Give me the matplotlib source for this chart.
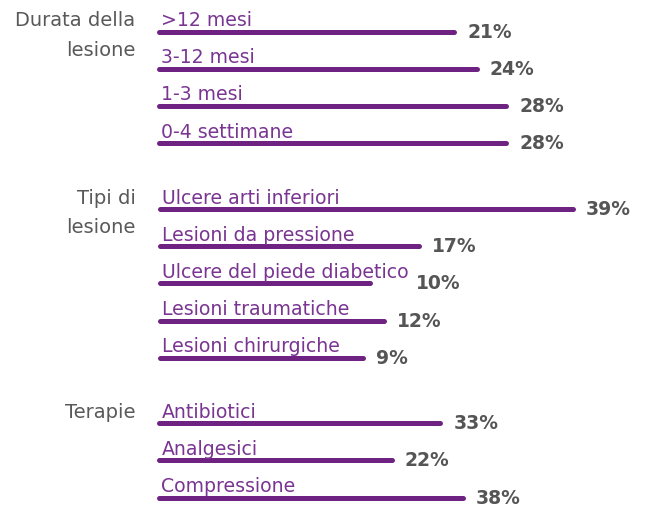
import matplotlib
matplotlib.use("Agg")
import matplotlib.pyplot as plt

# ---- data ----
group_names = ["Durata della\nlesione", "Tipi di\nlesione", "Terapie"]
durata_labels = [">12 mesi", "3-12 mesi", "1-3 mesi", "0-4 settimane"]
durata_values = [21, 24, 28, 28]
tipi_labels = ["Ulcere arti inferiori", "Lesioni da pressione",
               "Ulcere del piede diabetico", "Lesioni traumatiche",
               "Lesioni chirurgiche"]
tipi_values = [39, 17, 10, 12, 9]
terapie_labels = ["Antibiotici", "Analgesici", "Compressione"]
terapie_values = [33, 22, 38]

groups = [
    (group_names[0], durata_labels, durata_values),
    (group_names[1], tipi_labels, tipi_values),
    (group_names[2], terapie_labels, terapie_values),
]

# ---- style / layout ----
W, H = 649, 507
DPI = 100
BAR_COLOR = "#6e2281"
LABEL_COLOR = "#7a3592"
VALUE_COLOR = "#555555"
GROUP_COLOR = "#595959"
ROW = 37.2          # px between rows
LEFT = 159.5        # px, axes left (bar start)
tops = [12.9, 190.4, 404.6]            # px, top of each group block
xlims = [(-18.7, 47.2), (-20.0, 49.9), (-30.3, 80.0)]  # per-group scales
GROUP_LINE_STEP = 29.5  # px between lines of group titles
VALUE_GAP = 13          # px from bar end to value
LABEL_CLEAR = 8         # px min gap from label end to value

fig = plt.figure(figsize=(W / DPI, H / DPI), dpi=DPI)
fig.patch.set_facecolor("white")
renderer = fig.canvas.get_renderer()

for (gname, labels, values), top, xl in zip(groups, tops, xlims):
    n = len(values)
    h = n * ROW
    ax = fig.add_axes([LEFT / W, 1 - (top + h) / H, (W - LEFT) / W, h / H])
    ax.set_xlim(*xl)
    ax.set_ylim(n - 0.5, -0.5)
    ax.axis("off")
    x0 = xl[0]
    for i, (lab, v) in enumerate(zip(labels, values)):
        ax.plot([x0, v], [i, i], color=BAR_COLOR, lw=3.6,
                solid_capstyle="round", clip_on=False)
        t = ax.annotate(lab, xy=(x0, i), xytext=(2, 5.5),
                        textcoords="offset pixels", ha="left", va="baseline",
                        color=LABEL_COLOR, fontsize=13.6, family="DejaVu Sans")
        label_end = t.get_window_extent(renderer).x1
        bar_end = ax.transData.transform((v, i))[0]
        off = VALUE_GAP
        if bar_end + off < label_end + LABEL_CLEAR:
            off = label_end + LABEL_CLEAR - bar_end
        ax.annotate(f"{v}%", xy=(v, i), xytext=(off, -6),
                    textcoords="offset pixels", ha="left", va="baseline",
                    color=VALUE_COLOR, fontsize=13.5, fontweight="bold",
                    family="DejaVu Sans")
    for k, line in enumerate(gname.split("\n")):
        ax.annotate(line, xy=(x0, 0), xytext=(-24, 5.5 - k * GROUP_LINE_STEP),
                    textcoords="offset pixels", ha="right", va="baseline",
                    color=GROUP_COLOR, fontsize=14, family="DejaVu Sans",
                    annotation_clip=False)

fig.savefig("out.png", dpi=DPI, facecolor="white")
